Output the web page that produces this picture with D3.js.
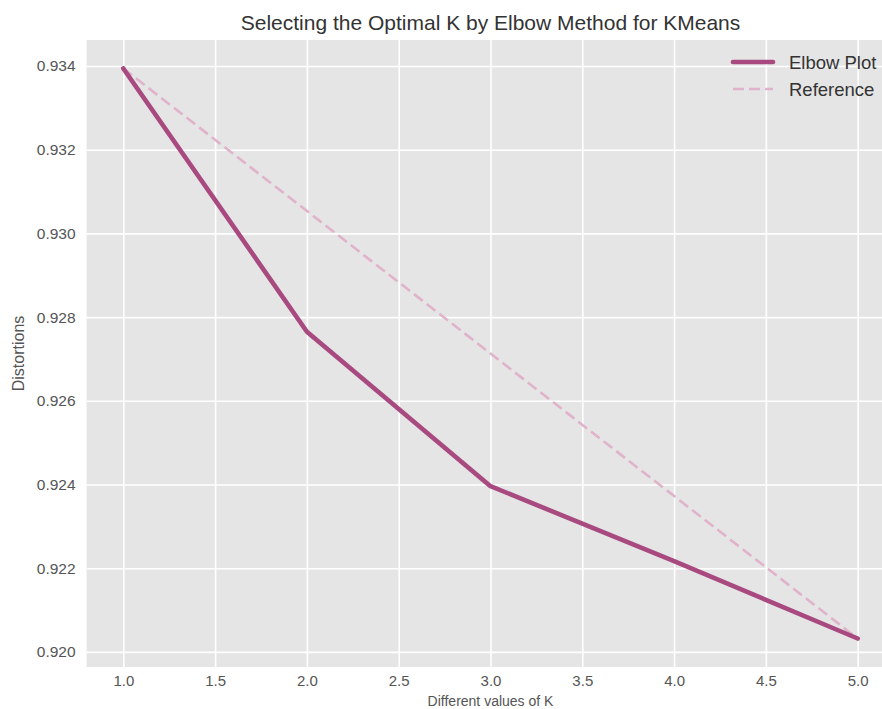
<!DOCTYPE html>
<html>
<head>
<meta charset="utf-8">
<script src="https://cdn.jsdelivr.net/npm/d3@7"></script>
<style>
  html, body { margin: 0; padding: 0; background: #ffffff; }
  svg { display: block; font-family: "Liberation Sans", Arial, sans-serif; }
</style>
</head>
<body>
<svg id="chart" width="882" height="709"></svg>
<script>
// Number of clusters tried and the mean distortion for each
const kValues = [1, 2, 3, 4, 5];
const distortions = [0.93394, 0.92765, 0.92396, 0.92217, 0.92032];

// Straight line joining the first and last distortion
const referenceK = [1, 5];
const referenceValues = [0.93394, 0.92032];

const xTicks = [1.0, 1.5, 2.0, 2.5, 3.0, 3.5, 4.0, 4.5, 5.0];
const yTicks = [0.920, 0.922, 0.924, 0.926, 0.928, 0.930, 0.932, 0.934];

const titleText = "Selecting the Optimal K by Elbow Method for KMeans";
const xLabel = "Different values of K";
const yLabel = "Distortions";
const seriesNames = ["Elbow Plot", "Reference"];

const svg = d3.select("#chart");
const plot = { left: 86.6, right: 894.4, top: 40, bottom: 667 };

// 5% padding around the data on both axes
const xMin = d3.min(kValues), xMax = d3.max(kValues);
const xPad = (xMax - xMin) * 0.05;
const yMin = d3.min(distortions), yMax = d3.max(distortions);
const yPad = (yMax - yMin) * 0.05;

const x = d3.scaleLinear().domain([xMin - xPad, xMax + xPad]).range([plot.left, plot.right]);
const y = d3.scaleLinear().domain([yMin - yPad, yMax + yPad]).range([plot.bottom, plot.top]);

// Panel background
svg.append("rect")
  .attr("x", plot.left).attr("y", plot.top)
  .attr("width", plot.right - plot.left).attr("height", plot.bottom - plot.top)
  .attr("fill", "#e5e5e5");

// Grid lines via axes with full-length ticks
const gx = svg.append("g")
  .attr("transform", `translate(0,${plot.bottom})`)
  .call(d3.axisBottom(x).tickValues(xTicks).tickFormat(d3.format(".1f"))
    .tickSize(-(plot.bottom - plot.top)).tickPadding(8.5));
const gy = svg.append("g")
  .attr("transform", `translate(${plot.left},0)`)
  .call(d3.axisLeft(y).tickValues(yTicks).tickFormat(d3.format(".3f"))
    .tickSize(-(plot.right - plot.left)).tickPadding(11));

[gx, gy].forEach(g => {
  g.select(".domain").remove();
  g.selectAll(".tick line").attr("stroke", "#ffffff").attr("stroke-width", 1.6);
  g.selectAll(".tick text").attr("fill", "#555555").attr("font-size", 15.5);
});
gx.selectAll(".tick text").attr("font-size", 15);

// Reference (dashed) line
const line = d3.line().x(d => x(d[0])).y(d => y(d[1]));
svg.append("path")
  .datum(referenceK.map((k, i) => [k, referenceValues[i]]))
  .attr("d", line)
  .attr("fill", "none")
  .attr("stroke", "#e0b3cb")
  .attr("stroke-width", 2.6)
  .attr("stroke-dasharray", "11,5");

// Elbow curve
svg.append("path")
  .datum(kValues.map((k, i) => [k, distortions[i]]))
  .attr("d", line)
  .attr("fill", "none")
  .attr("stroke", "#a84a80")
  .attr("stroke-width", 4.6)
  .attr("stroke-linecap", "round")
  .attr("stroke-linejoin", "round");

// Title and axis labels
svg.append("text")
  .attr("x", (plot.left + plot.right) / 2).attr("y", 30)
  .attr("text-anchor", "middle")
  .attr("font-size", 21)
  .attr("fill", "#333333")
  .text(titleText);

svg.append("text")
  .attr("x", (plot.left + plot.right) / 2).attr("y", 705.5)
  .attr("text-anchor", "middle")
  .attr("font-size", 14)
  .attr("fill", "#555555")
  .text(xLabel);

svg.append("text")
  .attr("transform", `translate(24,${(plot.top + plot.bottom) / 2}) rotate(-90)`)
  .attr("text-anchor", "middle")
  .attr("font-size", 16)
  .attr("fill", "#555555")
  .text(yLabel);

// Legend
const legend = svg.append("g").attr("transform", "translate(732,62)");
const legendItems = [
  { name: seriesNames[0], color: "#a84a80", width: 4.6, dash: null, cap: "round" },
  { name: seriesNames[1], color: "#e0b3cb", width: 2.6, dash: "11,5", cap: "butt" }
];
legendItems.forEach((d, i) => {
  const g = legend.append("g").attr("transform", `translate(0,${i * 27})`);
  g.append("line")
    .attr("x1", 1).attr("x2", 41).attr("y1", 0).attr("y2", 0)
    .attr("stroke", d.color).attr("stroke-width", d.width)
    .attr("stroke-linecap", d.cap)
    .attr("stroke-dasharray", d.dash);
  g.append("text")
    .attr("x", 57).attr("y", 6.5)
    .attr("font-size", 18.5)
    .attr("fill", "#333333")
    .text(d.name);
});
</script>
</body>
</html>
